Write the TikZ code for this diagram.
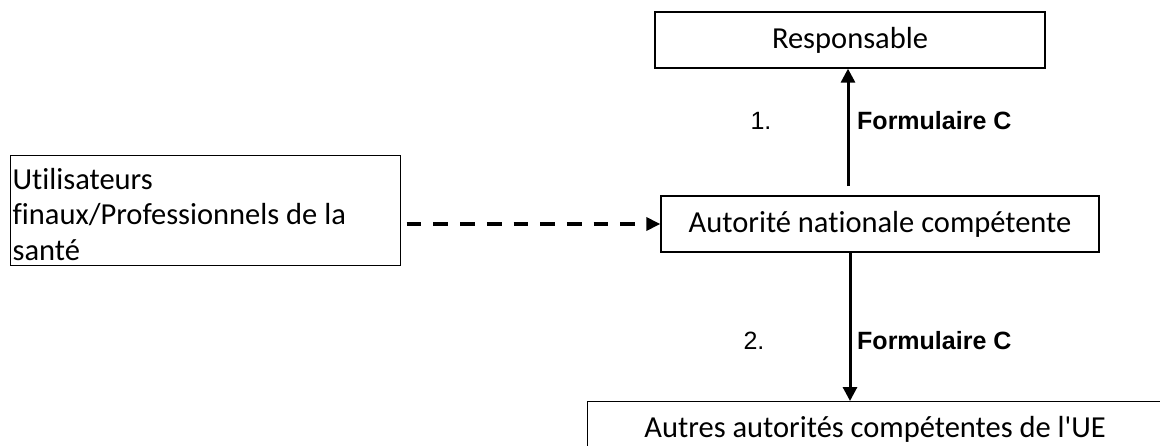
\documentclass[tikz,border=0pt]{standalone}
\usepackage{fontspec}
\setmainfont{Carlito}[Ligatures={TeXOff,NoCommon}]
\newfontfamily\arialfont{Liberation Sans}
\usetikzlibrary{arrows.meta}
\begin{document}
\begin{tikzpicture}[x=1pt,y=1pt,
  box/.style={draw, line width=1.3pt, inner sep=0pt, font=\fontsize{30.5}{35}\selectfont},
  arr/.style={line width=3pt, -{Triangle[width=14pt,length=14pt]}},
  dasharr/.style={line width=3.3pt, dash pattern=on 14.7pt off 12pt, -{Triangle[width=13pt,length=14pt]}},
  lab/.style={inner sep=0pt, font=\arialfont\fontsize{25}{30}\selectfont},
  blab/.style={lab, font=\arialfont\bfseries\fontsize{25}{30}\selectfont}]
\useasboundingbox (0,0) rectangle (1160,-445);
\node[box, minimum width=390pt, minimum height=56pt] (resp) at (850,-40) {Responsable};
\node[box, minimum width=438pt, minimum height=56pt] (anc) at (880,-224) {Autorité nationale compétente};
\node[box, anchor=north west, minimum width=390pt, minimum height=110pt,
      text width=386pt, align=flush left, inner xsep=2pt,
      font=\fontsize{30.5}{35.5}\selectfont] (util) at (10,-155)
      {\rule{0pt}{28pt}Utilisateurs\\finaux/Professionnels de la\\santé};
\node[box, anchor=north west, minimum width=575pt, minimum height=56pt] (eu) at (587,-401)
      {Autres autorités compétentes de l'UE};
\coordinate (a1s) at (848,-186);
\coordinate (a2x) at (850,0);
\draw[arr] (a1s) -- (a1s |- resp.south);
\draw[arr] (anc.south -| a2x) -- (a2x |- eu.north);
\draw[dasharr] ([xshift=5.4pt]util.east |- anc.west) -- (anc.west);
\node[lab] (n1) at (761,-121) {1.};
\node[blab, anchor=west] (f1) at (857,-121) {Formulaire C};
\node[lab] (n2) at (754,-341) {2.};
\node[blab, anchor=west] (f2) at (857,-341) {Formulaire C};
\end{tikzpicture}
\end{document}
